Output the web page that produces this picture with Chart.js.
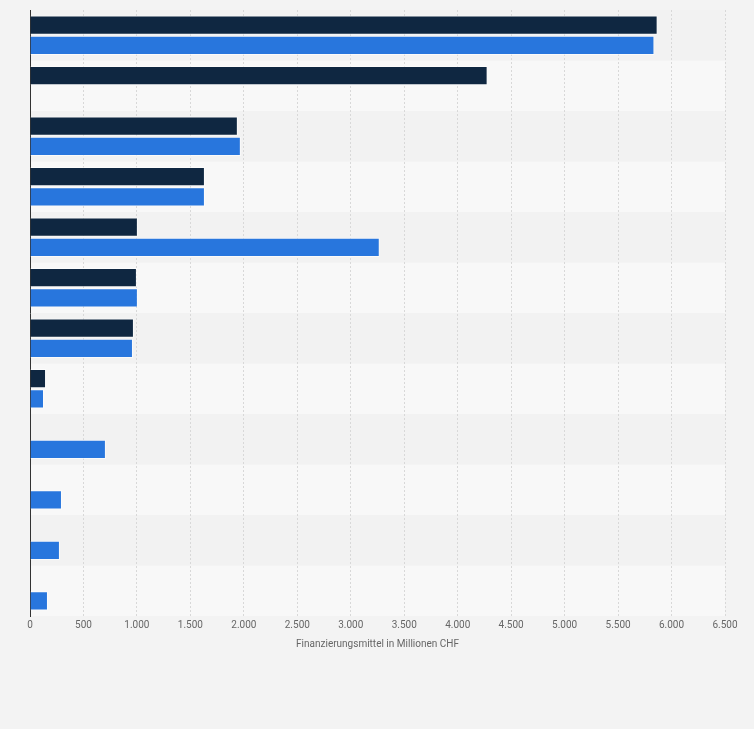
<!DOCTYPE html><html><head><meta charset="utf-8">
<script src="https://cdn.jsdelivr.net/npm/chart.js@4"></script>
<style>html,body{margin:0;background:#f3f3f3}#w{width:754px;height:729px}</style></head><body>
<div id="w"><canvas id="c"></canvas></div>
<script>
const categories=["1","2","3","4","5","6","7","8","9","10","11","12"];
const seriesA=[5870,4280,1944,1636,1009,1000,972,150,null,null,null,null];
const seriesB=[5840,null,1972,1636,3271,1009,963,131,710,299,280,168];
const xTicks=[0,500,1000,1500,2000,2500,3000,3500,4000,4500,5000,5500,6000,6500];
const bands={id:'bands',beforeDraw(ch){const {ctx,chartArea:a}=ch;const h=(a.bottom-a.top)/categories.length;
for(let i=0;i<categories.length;i++){ctx.fillStyle=i%2?'#f8f8f8':'#f2f2f2';ctx.fillRect(a.left,a.top+i*h,a.right-a.left,h);}}};
new Chart(document.getElementById('c'),{type:'bar',data:{labels:categories,datasets:[
{data:seriesA,backgroundColor:'#0f2741',borderColor:'rgba(255,255,255,0.6)',borderWidth:1,categoryPercentage:0.8,barPercentage:0.95},
{data:seriesB,backgroundColor:'#2876dd',borderColor:'rgba(255,255,255,0.6)',borderWidth:1,categoryPercentage:0.8,barPercentage:0.95}]},
options:{indexAxis:'y',responsive:true,maintainAspectRatio:false,animation:false,
layout:{padding:{left:22,right:29,top:10,bottom:75}},
plugins:{legend:{display:false},tooltip:{enabled:false}},
scales:{x:{min:0,max:6500,afterBuildTicks(s){s.ticks=xTicks.map(v=>({value:v}));},
ticks:{color:'#666',font:{family:'Roboto',size:10},callback:v=>v.toLocaleString('de-DE'),maxRotation:0,autoSkip:false},
grid:{color:'#d8d8d8',borderDash:[2,2],drawTicks:false,tickLength:0},border:{display:false,dash:[2,2]},
title:{display:true,text:'Finanzierungsmittel in Millionen CHF',color:'#666',font:{family:'Roboto',size:10}}},
y:{ticks:{display:false},grid:{display:false},border:{color:'#333',width:1}}}},plugins:[bands]});
</script></body></html>
